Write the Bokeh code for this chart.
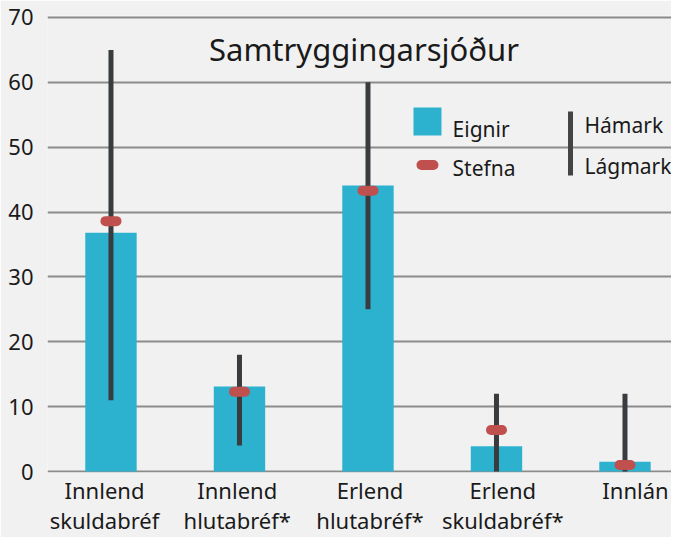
from bokeh.plotting import figure
from bokeh.models import Range1d, LinearAxis, FixedTicker, ColumnDataSource
from bokeh.core.properties import value
from bokeh.embed import file_html
from bokeh.resources import INLINE

# ---- data ----
categories = ["Innlend\nskuldabréf", "Innlend\nhlutabréf*", "Erlend\nhlutabréf*",
              "Erlend\nskuldabréf*", "Innlán"]
eignir = [36.8, 13.1, 44.1, 3.9, 1.5]
stefna = [38.6, 12.3, 43.3, 6.4, 1.0]
hamark = [65, 18, 60, 12, 12]
lagmark = [11, 4, 25, 0, 0]
y_ticks = [0, 10, 20, 30, 40, 50, 60, 70]
title_text = "Samtryggingarsjóður"
legend_labels = ["Eignir", "Stefna", "Hámark", "Lágmark"]

# ---- styles ----
BG = "#f1f1f1"
BAR = "#2cb2cf"
RED = "#c0504d"
DARK = "#383c3f"
GRID = "#8c8c8c"
TXT = "#1a1a1a"
FONT = "Noto Sans"

xs = list(range(len(categories)))
src = ColumnDataSource(dict(x=xs, eignir=eignir, stefna=stefna, hamark=hamark, lagmark=lagmark))

PX_PER_CAT = 128.5
half_dash = 5.5 / PX_PER_CAT
src.data["sx0"] = [x - half_dash for x in xs]
src.data["sx1"] = [x + half_dash for x in xs]

p = figure(width=671, height=537,
           x_range=Range1d(-0.494, 4.362), y_range=Range1d(-0.15, 70.3),
           output_backend="svg", toolbar_location=None, x_axis_location=None,
           min_border_left=47, min_border_right=0, min_border_top=15, min_border_bottom=60,
           background_fill_color=BG, border_fill_color=BG, outline_line_color=None)

# label axis on its own (slightly wider-spaced) scale, as in the original
p.extra_x_ranges = {"labels": Range1d(-0.4294, 4.2712)}
xaxis = LinearAxis(x_range_name="labels", ticker=FixedTicker(ticks=xs),
                   major_label_overrides={i: c for i, c in enumerate(categories)})
xaxis.axis_line_color = None
xaxis.major_tick_line_color = None
xaxis.minor_tick_line_color = None
xaxis.major_tick_in = 0
xaxis.major_tick_out = 0
xaxis.major_label_standoff = 2
xaxis.major_label_text_font = FONT
xaxis.major_label_text_font_size = "22px"
xaxis.major_label_text_color = TXT
xaxis.major_label_text_line_height = 1.0
p.add_layout(xaxis, "below")

p.yaxis.ticker = FixedTicker(ticks=y_ticks)
p.yaxis.axis_line_color = None
p.yaxis.major_tick_line_color = None
p.yaxis.minor_tick_line_color = None
p.yaxis.major_tick_in = 0
p.yaxis.major_tick_out = 0
p.yaxis.major_label_standoff = 14
p.yaxis.major_label_text_font = FONT
p.yaxis.major_label_text_font_size = "22px"
p.yaxis.major_label_text_color = TXT

p.xgrid.visible = False
p.ygrid.ticker = FixedTicker(ticks=y_ticks)
p.ygrid.grid_line_color = GRID
p.ygrid.grid_line_width = 2

# bars, ranges, targets
p.vbar(x="x", top="eignir", bottom=0, width=0.4, source=src, fill_color=BAR, line_color=None)
p.segment(x0="x", y0="lagmark", x1="x", y1="hamark", source=src, line_width=5, line_color=DARK)
p.segment(x0="sx0", y0="stefna", x1="sx1", y1="stefna", source=src,
          line_width=10, line_cap="round", line_color=RED)

# title inside plot
p.text(x=[1.969], y=[65.2], text=[title_text], text_align="center", text_baseline="alphabetic",
       text_font=value(FONT), text_font_size=value("31px"), text_color=TXT)

# legend
p.rect(x=[2.463], y=[53.96], width=28, height=28, width_units="screen", height_units="screen",
       fill_color=BAR, line_color=None)
p.segment(x0=[2.463 - 6.0 / PX_PER_CAT], y0=[47.26], x1=[2.463 + 6.0 / PX_PER_CAT], y1=[47.26],
          line_width=10, line_cap="round", line_color=RED)
p.segment(x0=[3.576], y0=[45.64], x1=[3.576], y1=[55.5], line_width=5, line_color="#444444")
p.text(x=[2.658, 2.658, 3.685, 3.685], y=[52.84, 46.76, 53.35, 47.07], text=legend_labels,
       text_align="left", text_baseline="alphabetic",
       text_font=value(FONT), text_font_size=value("21px"), text_color=TXT)

open("out.html", "w").write(file_html(p, INLINE))
